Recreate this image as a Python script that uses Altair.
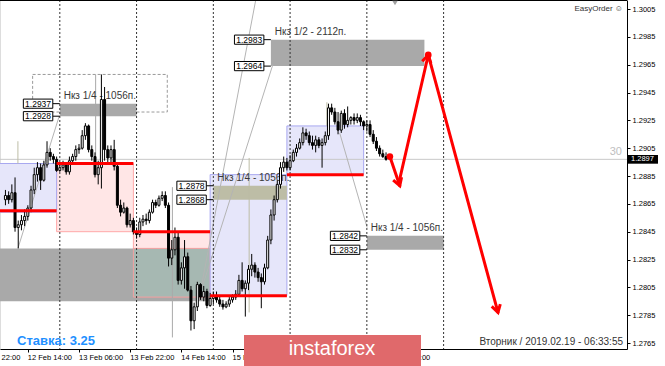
import math
import altair as alt
import pandas as pd

# ---------------- data ----------------
# H1 bars, bar index 0 = 13 Feb 00:00 (weekend skipped)
FIRST_BAR = -17
FIRST_OPEN = 1.2868
closes = [
    1.2871, 1.2868, 1.2873, 1.2848, 1.2850, 1.2853, 1.2856, 1.2862, 1.2875, 1.2886, 1.2891, 1.2882, 1.2893, 1.2902, 1.2899, 1.2897, 1.2889,
    1.2891, 1.2893, 1.2888, 1.2896, 1.2899, 1.2904, 1.2905, 1.2914, 1.2921, 1.2904, 1.2899, 1.2886, 1.2891, 1.2940, 1.2904, 1.2898, 1.2904, 1.2892, 1.2864, 1.2859, 1.2862, 1.2850, 1.2853, 1.2845,
    1.2843, 1.2852, 1.2854, 1.2853, 1.2859, 1.2866, 1.2864, 1.2869, 1.2871, 1.2864, 1.2826, 1.2832, 1.2841, 1.2810, 1.2819, 1.2827, 1.2803, 1.2781, 1.2791, 1.2807, 1.2798, 1.2802, 1.2792, 1.2797,
    1.2799, 1.2796, 1.2793, 1.2791, 1.2793, 1.2796, 1.2798, 1.2800, 1.2810, 1.2804, 1.2808, 1.2818, 1.2821, 1.2816, 1.2812, 1.2809, 1.2819, 1.2839, 1.2857, 1.2868, 1.2879, 1.2891, 1.2895, 1.2891,
    1.2896, 1.2902, 1.2905, 1.2909, 1.2916, 1.2914, 1.2909, 1.2907, 1.2911, 1.2907, 1.2909, 1.2914, 1.2934, 1.2931, 1.2924, 1.2918, 1.2930, 1.2922, 1.2925, 1.2927, 1.2925, 1.2927, 1.2924, 1.2921, 1.2922, 1.2915, 1.2910, 1.2905, 1.2901, 1.2899, 1.2897,
]
highs = [
    1.2875, 1.2874, 1.2879, 1.2884, 1.2853, 1.2857, 1.2861, 1.2864, 1.2878, 1.2891, 1.2895, 1.2894, 1.2896, 1.2910, 1.2905, 1.2901, 1.2899,
    1.2894, 1.2896, 1.2894, 1.2899, 1.2901, 1.2907, 1.2908, 1.2918, 1.2923, 1.2922, 1.2907, 1.2902, 1.2896, 1.2958, 1.2949, 1.2907, 1.2907, 1.2911, 1.2894, 1.2868, 1.2866, 1.2863, 1.2858, 1.2855,
    1.2848, 1.2855, 1.2857, 1.2858, 1.2861, 1.2868, 1.2868, 1.2871, 1.2874, 1.2874, 1.2866, 1.2839, 1.2848, 1.2845, 1.2823, 1.2839, 1.2830, 1.2806, 1.2794, 1.2809, 1.2808, 1.2806, 1.2804, 1.2801,
    1.2802, 1.2802, 1.2799, 1.2796, 1.2795, 1.2798, 1.2800, 1.2803, 1.2814, 1.2823, 1.2810, 1.2821, 1.2829, 1.2823, 1.2819, 1.2815, 1.2822, 1.2842, 1.2861, 1.2871, 1.2882, 1.2895, 1.2899, 1.2898,
    1.2900, 1.2904, 1.2908, 1.2912, 1.2920, 1.2919, 1.2917, 1.2914, 1.2914, 1.2913, 1.2912, 1.2917, 1.2937, 1.2937, 1.2934, 1.2931, 1.2932, 1.2933, 1.2935, 1.2928, 1.2930, 1.2930, 1.2929, 1.2925, 1.2925, 1.2925, 1.2918, 1.2913, 1.2907, 1.2904, 1.2902,
]
lows = [
    1.2864, 1.2865, 1.2866, 1.2845, 1.2833, 1.2846, 1.2849, 1.2853, 1.2859, 1.2872, 1.2881, 1.2875, 1.2881, 1.2891, 1.2896, 1.2894, 1.2888,
    1.2888, 1.2889, 1.2886, 1.2886, 1.2895, 1.2896, 1.2901, 1.2904, 1.2911, 1.2902, 1.2896, 1.2884, 1.2879, 1.2876, 1.2896, 1.2895, 1.2893, 1.2889, 1.2862, 1.2856, 1.2858, 1.2848, 1.2848, 1.2843,
    1.2840, 1.2841, 1.2849, 1.2850, 1.2851, 1.2858, 1.2862, 1.2863, 1.2867, 1.2862, 1.2820, 1.2821, 1.2828, 1.2807, 1.2807, 1.2804, 1.2802, 1.2774, 1.2775, 1.2788, 1.2796, 1.2795, 1.2790, 1.2791,
    1.2793, 1.2794, 1.2791, 1.2789, 1.2790, 1.2791, 1.2794, 1.2796, 1.2799, 1.2802, 1.2784, 1.2803, 1.2813, 1.2812, 1.2809, 1.2790, 1.2807, 1.2818, 1.2836, 1.2853, 1.2866, 1.2876, 1.2888, 1.2889,
    1.2889, 1.2895, 1.2899, 1.2904, 1.2907, 1.2911, 1.2907, 1.2904, 1.2902, 1.2905, 1.2891, 1.2907, 1.2911, 1.2929, 1.2922, 1.2915, 1.2916, 1.2919, 1.2920, 1.2922, 1.2922, 1.2923, 1.2921, 1.2918, 1.2917, 1.2913, 1.2908, 1.2903, 1.2899, 1.2898, 1.2896,
]

# time axis labels (bar index of each label); the two hidden under the logo are left out
time_tick_bars = [-26, -10, 6, 22, 38, 54, 102]
time_tick_labels = ["11 Feb 22:00", "12 Feb 14:00", "13 Feb 06:00", "13 Feb 22:00", "14 Feb 14:00",
                    "15 Feb 06:00", "19 Feb 06:00"]
axis_tick_bars = [-10, 6, 22, 38, 54, 70, 86, 102]
day_start_bars = [0, 24, 48, 72, 96, 120]

price_ticks = [1.2765, 1.2785, 1.2805, 1.2825, 1.2845, 1.2865, 1.2885, 1.2905,
               1.2925, 1.2945, 1.2965, 1.2985, 1.3005]
bid_price = 1.2897

# daily boxes: start bar, end bar, low, high, level of the red line
blue_start = [-20, 47, 71]
blue_end = [-1, 71, 95]
blue_low = [1.2859, 1.2799, 1.2886]
blue_high = [1.2894, 1.2886, 1.2921]
pink_start = [-1, 23]
pink_end = [23, 47]
pink_low = [1.2845, 1.2798]
pink_high = [1.2894, 1.2845]
red_start = [-20, -1, 23, 47, 71]
red_end = [-1, 23, 47, 71, 95]
red_level = [1.2860, 1.2894, 1.2845, 1.2799, 1.2886]

big_zone = dict(start=-20, end=47, low=1.2795, high=1.2833)

# "Нкз" zones
nkz_start = [0, 66, 48, 96]
nkz_end = [24, 114, 71, 120]
nkz_low = [1.2928, 1.2964, 1.2868, 1.2832]
nkz_high = [1.2937, 1.2983, 1.2878, 1.2842]
nkz_kind = ["gray", "gray", "olive", "gray"]
nkz_text = ["Нкз 1/4 - 1056п.", "Нкз 1/2 - 2112п.", "Нкз 1/4 - 1056п.", "Нкз 1/4 - 1056п."]

dotted_box = dict(start=-8.5, end=33.6, low=1.2931, high=1.2958)

# thin helper lines (bar, price) pairs
thin_id = [1, 1, 2, 2, 3, 3, 4, 4]
thin_bar = [43.8, 61.3, 43.8, 66.6, 87.5, 96.1, -0.2, -13.1]
thin_price = [1.2800, 1.3012, 1.2800, 1.2965, 1.2916, 1.2848, 1.2928, 1.2833]

vline_bar = [11.2, 35.2, -13.1, 59.2, 83.5]
vline_low = [1.2894, 1.2769, 1.2894, 1.2787, 1.2921]
vline_high = [1.2958, 1.2877, 1.2910, 1.2898, 1.2938]
vline_kind = ["pink", "pink", "blue", "blue", "blue"]

# forecast path
fc_seg = [1, 1, 2, 2, 3, 3]
fc_bar = [103.2, 106.3, 106.0, 115.2, 115.2, 137.0]
fc_price = [1.2899, 1.2878, 1.2880, 1.2972, 1.2972, 1.2787]
fc_dot_bar = [103.2, 115.2]
fc_dot_price = [1.2899, 1.2972]

# ---------------- scales ----------------
W, H = 627, 349
X_DOM = [-17.14, 175.78]
Y_DOM = [1.27607, 1.30115]
PX_BAR = W / (X_DOM[1] - X_DOM[0])
PX_PRICE = H / (Y_DOM[1] - Y_DOM[0])
xs = alt.Scale(domain=X_DOM, nice=False, zero=False)
ys = alt.Scale(domain=Y_DOM, nice=False, zero=False)
FONT = "Liberation Sans"

AX = alt.Axis(orient="bottom", values=axis_tick_bars, labels=False, ticks=True, tickSize=3,
              tickColor="#000", domainColor="#000", grid=False, title=None)
AY = alt.Axis(orient="right", values=price_ticks, format=".4f", labelFontSize=7.5, labelFont=FONT,
              labelColor="#000", tickSize=3, tickColor="#000", domainColor="#000", labelPadding=2,
              grid=False, title=None)


def X(f):
    return alt.X(f, type="quantitative", scale=xs, axis=AX)


def Y(f):
    return alt.Y(f, type="quantitative", scale=ys, axis=AY)


def YD(v):
    return alt.datum(v, type="quantitative", scale=ys, axis=AY)


# ---------------- frames ----------------
n = len(closes)
opens = [FIRST_OPEN] + closes[:-1]
cdf = pd.DataFrame({
    "bar": list(range(FIRST_BAR, FIRST_BAR + n)),
    "open": opens, "close": closes,
    "high": [max(h, o, c) for h, o, c in zip(highs, opens, closes)],
    "low": [min(l, o, c) for l, o, c in zip(lows, opens, closes)],
})
cdf["up"] = cdf["close"] >= cdf["open"]

blue_df = pd.DataFrame({"s": blue_start, "e": blue_end, "lo": blue_low, "hi": blue_high})
pink_df = pd.DataFrame({"s": pink_start, "e": pink_end, "lo": pink_low, "hi": pink_high})
red_df = pd.DataFrame({"s": red_start, "e": red_end, "p": red_level})
big_df = pd.DataFrame([big_zone])
ov_df = pd.DataFrame({"s": [pink_start[1]], "e": [pink_end[1]],
                      "lo": [max(pink_low[1], big_zone["low"])], "hi": [big_zone["high"]]})
dot_df = pd.DataFrame([dotted_box])
nkz_df = pd.DataFrame({"s": nkz_start, "e": nkz_end, "lo": nkz_low, "hi": nkz_high,
                       "kind": nkz_kind, "txt": nkz_text})
nkz_df["tx"] = nkz_df["s"] + 1.2
nkz_df["ty"] = nkz_df["hi"] + 0.00053

BOX_W, BOX_GAP, BOX_H = 9.2, 2.2, 0.00033
rows = []
for s, lo, hi in zip(nkz_start, nkz_low, nkz_high):
    for p in (hi, lo):
        r = s - BOX_GAP
        rows.append({"l": r - BOX_W, "r": r, "c": r - BOX_W / 2, "s": s, "p": p,
                     "p1": p - BOX_H, "p2": p + BOX_H, "t": f"{p:.4f}"})
box_df = pd.DataFrame(rows)

thin_df = pd.DataFrame({"id": thin_id, "b": thin_bar, "p": thin_price})
vl_df = pd.DataFrame({"b": vline_bar, "lo": vline_low, "hi": vline_high, "kind": vline_kind})
fc_df = pd.DataFrame({"seg": fc_seg, "b": fc_bar, "p": fc_price})
heads = []
for sg in sorted(set(fc_seg)):
    pts = [(b, p) for s, b, p in zip(fc_seg, fc_bar, fc_price) if s == sg]
    (b1, p1), (b2, p2) = pts[0], pts[-1]
    dx = (b2 - b1) * PX_BAR
    dy = -(p2 - p1) * PX_PRICE
    heads.append({"b": b2, "p": p2, "ang": math.degrees(math.atan2(-dx, dy)) % 360})
head_df = pd.DataFrame(heads)
fdot_df = pd.DataFrame({"b": fc_dot_bar, "p": fc_dot_price})
tick_df = pd.DataFrame({"b": time_tick_bars, "t": time_tick_labels})
day_df = pd.DataFrame({"b": day_start_bars})
one = pd.DataFrame({"k": [0]})

# ---------------- layers ----------------
layers = []
# candle wicks first: carries the axes
layers.append(alt.Chart(cdf).mark_rule(color="#000000", strokeWidth=1, opacity=0)
              .encode(x=X("bar"), y=Y("low"), y2="high"))
layers.append(alt.Chart(pink_df).mark_rect(fill="#FFE6E6", stroke="#FFA8A8", strokeWidth=1, clip=True)
              .encode(x=X("s"), x2="e", y=Y("lo"), y2="hi"))
layers.append(alt.Chart(big_df).mark_rect(fill="#A9A9A9", clip=True)
              .encode(x=X("start"), x2="end", y=Y("low"), y2="high"))
layers.append(alt.Chart(ov_df).mark_rect(fill="#A6B8B2", stroke="#F4A0A0", strokeWidth=1)
              .encode(x=X("s"), x2="e", y=Y("lo"), y2="hi"))
layers.append(alt.Chart(blue_df).mark_rect(fill="#E6E6FA", stroke="#A8A8F0", strokeWidth=1, clip=True)
              .encode(x=X("s"), x2="e", y=Y("lo"), y2="hi"))
layers.append(alt.Chart(dot_df).mark_rect(fillOpacity=0, stroke="#9A9A9A", strokeWidth=1, strokeDash=[3, 2])
              .encode(x=X("start"), x2="end", y=Y("low"), y2="high"))
layers.append(alt.Chart(nkz_df).mark_rect()
              .encode(x=X("s"), x2="e", y=Y("lo"), y2="hi",
                      color=alt.Color("kind:N", legend=None,
                                      scale=alt.Scale(domain=["gray", "olive"], range=["#A9A9A9", "#BDBDA6"]))))
layers.append(alt.Chart(one).mark_rule(color="#C8C8C8", strokeWidth=1)
              .encode(y=YD(bid_price)))
layers.append(alt.Chart(thin_df).mark_line(color="#B4B4B4", strokeWidth=1, clip=True)
              .encode(x=X("b"), y=Y("p"), detail="id:N"))
layers.append(alt.Chart(vl_df).mark_rule(strokeWidth=1, clip=True)
              .encode(x=X("b"), y=Y("lo"), y2="hi",
                      color=alt.Color("kind:N", legend=None,
                                      scale=alt.Scale(domain=["pink", "blue"], range=["#F4A0A0", "#A8A8F0"]))))
layers.append(alt.Chart(day_df).mark_rule(color="#333333", strokeWidth=1, strokeDash=[2, 2])
              .encode(x=X("b")))
layers.append(alt.Chart(nkz_df).mark_text(align="left", baseline="middle", fontSize=10, font=FONT, color="#383838")
              .encode(x=X("tx"), y=Y("ty"), text="txt:N"))
# candles
layers.append(alt.Chart(cdf).mark_rule(color="#000000", strokeWidth=1)
              .encode(x=X("bar"), y=Y("low"), y2="high"))
layers.append(alt.Chart(cdf).mark_bar(size=2, stroke="#000000", strokeWidth=1)
              .encode(x=X("bar"), y=Y("open"), y2="close",
                      fill=alt.condition("datum.up", alt.value("#FFFFFF"), alt.value("#000000"))))
layers.append(alt.Chart(red_df).mark_rule(color="#FF0000", strokeWidth=3, clip=True)
              .encode(x=X("s"), x2="e", y=Y("p")))
# price label boxes
layers.append(alt.Chart(box_df).mark_rule(color="#000000", strokeWidth=1)
              .encode(x=X("r"), x2="s", y=Y("p")))
layers.append(alt.Chart(box_df).mark_rect(fill="#FFFFFF", stroke="#000000", strokeWidth=1)
              .encode(x=X("l"), x2="r", y=Y("p1"), y2="p2"))
layers.append(alt.Chart(box_df).mark_text(fontSize=8.5, font=FONT, color="#000000", baseline="middle")
              .encode(x=X("c"), y=Y("p"), text="t:N"))
# forecast
layers.append(alt.Chart(fc_df).mark_line(color="#FF0000", strokeWidth=3, strokeCap="round")
              .encode(x=X("b"), y=Y("p"), detail="seg:N"))
layers.append(alt.Chart(head_df).mark_point(shape="M -0.6 -1 L 0 0 L 0.6 -1", filled=False, size=220,
                                            stroke="#FF0000", strokeWidth=3, opacity=1)
              .encode(x=X("b"), y=Y("p"), angle=alt.Angle("ang:Q", scale=None)))
layers.append(alt.Chart(fdot_df).mark_point(filled=True, color="#FF0000", size=45, opacity=1)
              .encode(x=X("b"), y=Y("p")))
# frame & annotations
layers.append(alt.Chart(one).mark_rule(color="#000000", strokeWidth=1)
              .encode(x=alt.value(0), x2=alt.value(W), y=alt.value(0.5)))
layers.append(alt.Chart(one).mark_point(shape="triangle-down", filled=True, color="#A0A0A0", size=30, opacity=1)
              .encode(x=alt.value(395), y=alt.value(3)))
layers.append(alt.Chart(tick_df).mark_text(align="left", baseline="top", fontSize=7.5, font=FONT, color="#000")
              .encode(x=X("b"), y=alt.value(H + 5), text="t:N"))
layers.append(alt.Chart(one).mark_text(text="30", align="right", baseline="middle", fontSize=11, font=FONT,
                                       color="#C0C0C0")
              .encode(x=alt.value(622), y=alt.value(152)))
layers.append(alt.Chart(one).mark_rect(fill="#000000")
              .encode(x=alt.value(628), x2=alt.value(658),
                      y=YD(bid_price - BOX_H * 0.95), y2=alt.datum(bid_price + BOX_H * 0.95)))
layers.append(alt.Chart(one).mark_text(text=f"{bid_price:.4f}", align="left", baseline="middle", fontSize=7.5,
                                       font=FONT, color="#FFFFFF")
              .encode(x=alt.value(631), y=YD(bid_price)))
layers.append(alt.Chart(one).mark_text(text="EasyOrder ☺", align="right", baseline="middle", fontSize=8,
                                       font=FONT, color="#333333")
              .encode(x=alt.value(623), y=alt.value(9)))
layers.append(alt.Chart(one).mark_text(text="Ставка: 3.25", align="left", baseline="middle", fontSize=13,
                                       fontWeight="bold", font=FONT, color="#1E90FF")
              .encode(x=alt.value(17), y=alt.value(341)))
layers.append(alt.Chart(one).mark_text(text="Вторник  /  2019.02.19  -  06:33:55", align="right",
                                       baseline="middle", fontSize=10, font=FONT, color="#333333")
              .encode(x=alt.value(623), y=alt.value(342)))
layers.append(alt.Chart(one).mark_rect(fill="#E0696B")
              .encode(x=alt.value(244), x2=alt.value(421), y=alt.value(335), y2=alt.value(366)))
layers.append(alt.Chart(one).mark_text(text="instaforex", align="center", baseline="middle", fontSize=20,
                                       font=FONT, color="#FFFFFF")
              .encode(x=alt.value(332), y=alt.value(349)))

chart = alt.layer(*layers).properties(
    width=W, height=H,
    autosize=alt.AutoSizeParams(type="none"),
    padding={"left": 0, "top": 0, "right": 38, "bottom": 17},
    background="#FFFFFF",
).configure_view(strokeWidth=0).configure(font=FONT)

chart.save("out.html", embed_options={"renderer": "svg", "actions": False})
